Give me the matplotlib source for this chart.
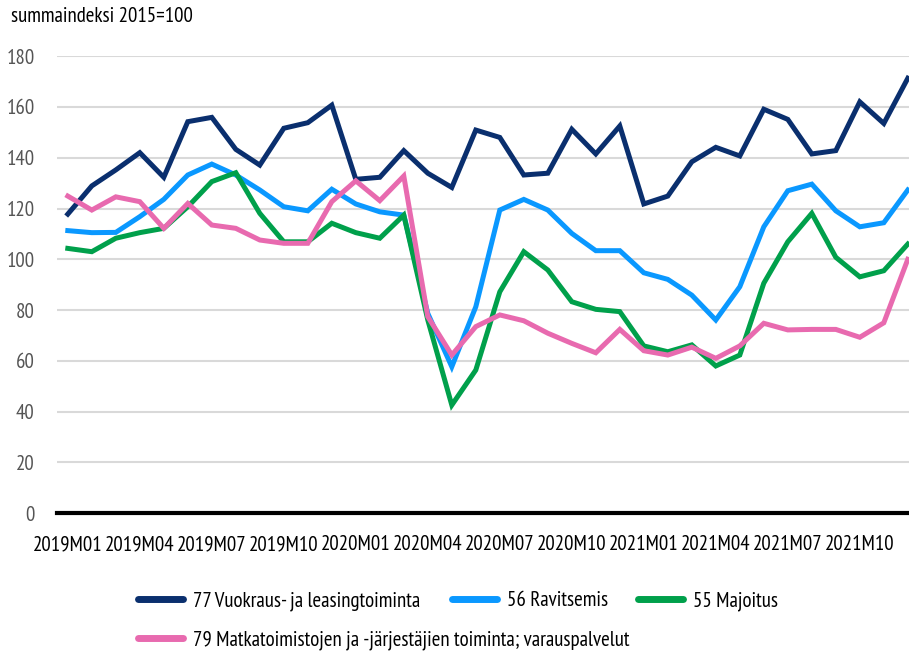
import matplotlib
matplotlib.use('Agg')
import matplotlib.pyplot as plt
from matplotlib.lines import Line2D

# Kapea fontti (viitekuvassa Myriad Condensed -tyylinen)
plt.rcParams['font.family'] = ['PT Sans Narrow', 'Roboto Condensed', 'DejaVu Sans']

# Data
months = [f'{y}M{m:02d}' for y in (2019, 2020, 2021) for m in range(1, 13)]

vuokraus = [117.8, 128.9, 135.2, 142.0, 132.3, 154.2, 155.9, 143.3, 137.1, 151.6, 153.8, 160.7,
            131.5, 132.3, 142.8, 133.9, 128.3, 150.9, 148.0, 133.2, 133.9, 151.2, 141.5, 152.5,
            121.8, 124.9, 138.4, 144.1, 140.7, 159.1, 155.1, 141.5, 142.8, 162.0, 153.5, 171.3]
ravitsemis = [111.3, 110.5, 110.6, 116.8, 123.6, 133.2, 137.5, 133.2, 127.3, 120.7, 119.1, 127.6,
              121.8, 118.7, 117.4, 78.7, 57.7, 81.3, 119.4, 123.6, 119.4, 110.2, 103.4, 103.4,
              94.7, 92.1, 85.9, 76.1, 89.2, 112.8, 127.0, 129.6, 119.1, 112.8, 114.4, 127.3]
majoitus = [104.3, 103.0, 108.3, 110.5, 112.2, 120.7, 130.6, 134.1, 118.1, 106.9, 106.9, 114.2,
            110.5, 108.3, 117.4, 76.1, 42.6, 56.4, 87.2, 103.0, 95.8, 83.3, 80.3, 79.4,
            65.9, 63.6, 66.3, 58.0, 62.3, 90.6, 106.9, 118.1, 100.8, 93.1, 95.5, 106.0]
matkatoimistot = [124.9, 119.4, 124.6, 122.7, 112.2, 122.0, 113.5, 112.2, 107.6, 106.3, 106.3, 122.7,
                  130.9, 123.1, 132.8, 77.4, 62.3, 73.5, 78.1, 75.8, 70.9, 66.9, 63.2, 72.4,
                  64.0, 62.3, 65.4, 61.0, 65.9, 74.8, 72.2, 72.4, 72.4, 69.3, 75.0, 100.0]

series = [
    ('77 Vuokraus- ja leasingtoiminta', vuokraus, '#0A2F6E'),
    ('56 Ravitsemis', ravitsemis, '#0A98FF'),
    ('55 Majoitus', majoitus, '#00A04B'),
    ('79 Matkatoimistojen ja -järjestäjien toiminta; varauspalvelut', matkatoimistot, '#E86AAF'),
]

fig = plt.figure(figsize=(9.09, 6.53), dpi=100)
ax = fig.add_axes([0.0627, 0.214, 0.9373, 0.700])

x = list(range(len(months)))
for label, vals, col in series:
    ax.plot(x, vals, color=col, lw=3.6, solid_joinstyle='miter', label=label)

ax.set_ylim(0, 180)
ax.set_xlim(-0.45, 35.05)
ax.set_yticks(range(0, 181, 20))
ax.set_xticks(x[::3])
ax.set_xticklabels(months[::3])
ax.grid(axis='y', color='#D9D9D9', lw=1.5)
ax.set_axisbelow(True)
for s in ('top', 'right', 'left'):
    ax.spines[s].set_visible(False)
ax.spines['bottom'].set_linewidth(3)
ax.spines['bottom'].set_color('black')
ax.tick_params(axis='y', length=0, pad=16, labelsize=15, labelcolor='#555555')
ax.tick_params(axis='x', length=0, pad=16, labelsize=15, labelcolor='black')

fig.text(0.012, 0.99, 'summaindeksi 2015=100', fontsize=15, va='top', ha='left')

# Legenda, kaksi riviä
pos = [(0.152, 0.080), (0.497, 0.080), (0.702, 0.080), (0.152, 0.020)]
for (label, vals, col), (px, py) in zip(series, pos):
    h = Line2D([], [], color=col, lw=5, solid_capstyle='round')
    fig.legend([h], [label], loc='center left', bbox_to_anchor=(px, py), frameon=False,
               fontsize=15, handlelength=2.15, handletextpad=0.5, borderpad=0, borderaxespad=0)

fig.savefig('out.png', dpi=100)
